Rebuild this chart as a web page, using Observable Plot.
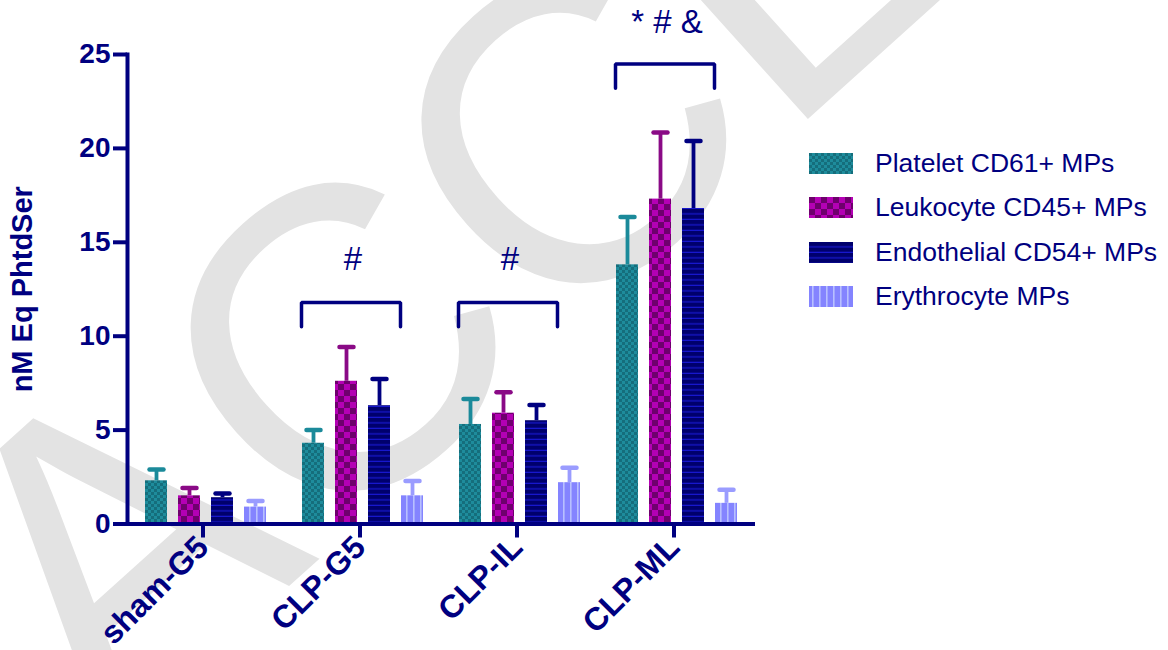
<!DOCTYPE html>
<html><head><meta charset="utf-8">
<script src="https://cdn.jsdelivr.net/npm/d3@7"></script>
<script src="https://cdn.jsdelivr.net/npm/@observablehq/plot@0.6"></script>
<style>
body{margin:0;background:#fff;width:1168px;height:650px;position:relative;overflow:hidden;font-family:"Liberation Sans",Arial,sans-serif;}
#wm{position:absolute;left:0;top:0;}
#chart{position:absolute;left:0;top:0;}
#legend{position:absolute;left:809px;top:141px;color:#000080;font-size:26.5px;}
.row{display:flex;align-items:center;height:44.5px;white-space:nowrap;}
.sw{width:44px;height:21px;margin-right:22px;display:block;}
</style></head><body>
<svg id="wm" width="1168" height="650"><text transform="translate(107,750) rotate(-42)" font-size="430" fill="#e3e3e3" font-family="Liberation Sans, Arial, sans-serif">ACCEPTED</text></svg>
<svg width="0" height="0" style="position:absolute"><defs>
<pattern id="pTeal" patternUnits="userSpaceOnUse" width="6" height="6">
 <rect width="6" height="6" fill="#1e8c9c"/><rect width="3" height="3" fill="#156e7c"/><rect x="3" y="3" width="3" height="3" fill="#156e7c"/>
</pattern>
<pattern id="pMag" patternUnits="userSpaceOnUse" width="12" height="12">
 <rect width="12" height="12" fill="#b400b4"/><rect width="6" height="6" fill="#6e006c"/><rect x="6" y="6" width="6" height="6" fill="#6e006c"/>
</pattern>
<pattern id="pNavy" patternUnits="userSpaceOnUse" width="10" height="5.5">
 <rect width="10" height="5.5" fill="#00006c"/><rect y="4.3" width="10" height="1.2" fill="#1818d0"/>
</pattern>
<pattern id="pEry" patternUnits="userSpaceOnUse" width="7" height="10">
 <rect width="7" height="10" fill="#8484ff"/><rect x="3" width="1.6" height="10" fill="#b8c0ff"/>
</pattern>
</defs></svg>
<div id="chart"></div>
<div id="legend"></div>
<script>
// ---- data ----
const groups = ["sham-G5", "CLP-G5", "CLP-IL", "CLP-ML"];
const series = ["Platelet CD61+ MPs", "Leukocyte CD45+ MPs", "Endothelial CD54+ MPs", "Erythrocyte MPs"];
const platelet       = [2.3, 4.3, 5.3, 13.8];
const plateletErr    = [0.6, 0.7, 1.35, 2.55];
const leukocyte      = [1.5, 7.6, 5.9, 17.3];
const leukocyteErr   = [0.42, 1.83, 1.12, 3.55];
const endothelial    = [1.4, 6.3, 5.5, 16.8];
const endothelialErr = [0.22, 1.42, 0.83, 3.6];
const erythrocyte    = [0.9, 1.5, 2.2, 1.1];
const erythrocyteErr = [0.32, 0.79, 0.8, 0.73];
const yTicks = [0, 5, 10, 15, 20, 25];
const bracketGroups = ["CLP-G5", "CLP-IL", "CLP-ML"];
const bracketTop    = [11.8, 11.8, 24.5];
const bracketLegs   = [10.5, 10.5, 23.2];
const annoLabels    = ["#", "#", "* # &"];
const annoY         = [14.1, 14.1, 26.7];

// ---- styles ----
const navy = "#000080";
const fills = ["url(#pTeal)", "url(#pMag)", "url(#pNavy)", "url(#pEry)"];
const strokes = ["#1b8a9a", "#8a0a86", "#000080", "#9a9cff"];

const values = [platelet, leukocyte, endothelial, erythrocyte];
const errs = [plateletErr, leukocyteErr, endothelialErr, erythrocyteErr];
const data = [];
groups.forEach((g, i) => series.forEach((s, j) => data.push({group: g, series: s, value: values[j][i], err: errs[j][i]})));

const brackets = [];
bracketGroups.forEach((g, i) => {
  brackets.push({group: g, series: series[0], y: bracketLegs[i]});
  brackets.push({group: g, series: series[0], y: bracketTop[i]});
  brackets.push({group: g, series: series[3], y: bracketTop[i]});
  brackets.push({group: g, series: series[3], y: bracketLegs[i]});
});
const annos = bracketGroups.map((g, i) => ({group: g, label: annoLabels[i], y: annoY[i]}));

const cap = {draw(ctx, size) { const r = Math.sqrt(size / Math.PI); ctx.moveTo(-r, 0); ctx.lineTo(r, 0); }};

const font = "Liberation Sans, Arial, sans-serif";
const chart = Plot.plot({
  width: 790, height: 650,
  marginLeft: 126, marginRight: 34, marginTop: 54, marginBottom: 126.5,
  style: {background: "transparent", fontFamily: font, color: navy, overflow: "visible"},
  fx: {domain: groups, padding: 0, label: null},
  x: {domain: series, paddingInner: 0.32, paddingOuter: 0.48, axis: null},
  y: {domain: [0, 25]},
  color: {domain: series, range: fills},
  marks: [
    ...series.map((s, j) => Plot.ruleX(data.filter(d => d.series === s), {fx: "group", x: "series", y1: "value", y2: d => d.value + d.err, stroke: strokes[j], strokeWidth: 3.8})),
    ...series.map((s, j) => Plot.dot(data.filter(d => d.series === s), {fx: "group", x: "series", y: d => d.value + d.err, symbol: cap, r: 7, fill: "none", stroke: strokes[j], strokeWidth: 4.5, strokeLinecap: "round"})),
    Plot.barY(data, {fx: "group", x: "series", y: "value", fill: "series"}),
    Plot.ruleY([0], {stroke: navy, strokeWidth: 4}),
    Plot.frame({anchor: "left", facetAnchor: "left", stroke: navy, strokeWidth: 4}),
    Plot.line(brackets, {fx: "group", x: "series", y: "y", z: "group", dx: -12, stroke: navy, strokeWidth: 3.5, strokeLinecap: "round", strokeLinejoin: "miter"}),
    Plot.text(annos, {fx: "group", y: "y", text: "label", dx: -10, fontSize: 33, fill: navy, fontFamily: font}),
    Plot.axisY({ticks: yTicks, tickSize: 14, tickPadding: 3, strokeWidth: 4, stroke: navy, fill: navy, fontSize: 28, fontWeight: "bold", fontFamily: font,
      label: null}),
    Plot.axisY({ticks: [], tickSize: 0, label: "nM Eq PhtdSer", labelAnchor: "center", labelOffset: 116, labelArrow: "none", fill: navy, fontSize: 29, fontWeight: "bold", fontFamily: font}),
    Plot.axisFx({anchor: "bottom", tickSize: 14, tickPadding: 4, strokeWidth: 4, stroke: navy, fill: navy, tickRotate: -45, dx: -3, fontSize: 32, fontWeight: "bold", fontFamily: font, label: null})
  ]
});
document.getElementById("chart").appendChild(chart);

// legend
const legend = document.getElementById("legend");
series.forEach((s, j) => {
  const row = document.createElement("div");
  row.className = "row";
  row.innerHTML = `<svg class="sw" width="44" height="21"><rect width="44" height="21" fill="${fills[j]}"/></svg><span>${s}</span>`;
  legend.appendChild(row);
});
</script>
</body></html>
